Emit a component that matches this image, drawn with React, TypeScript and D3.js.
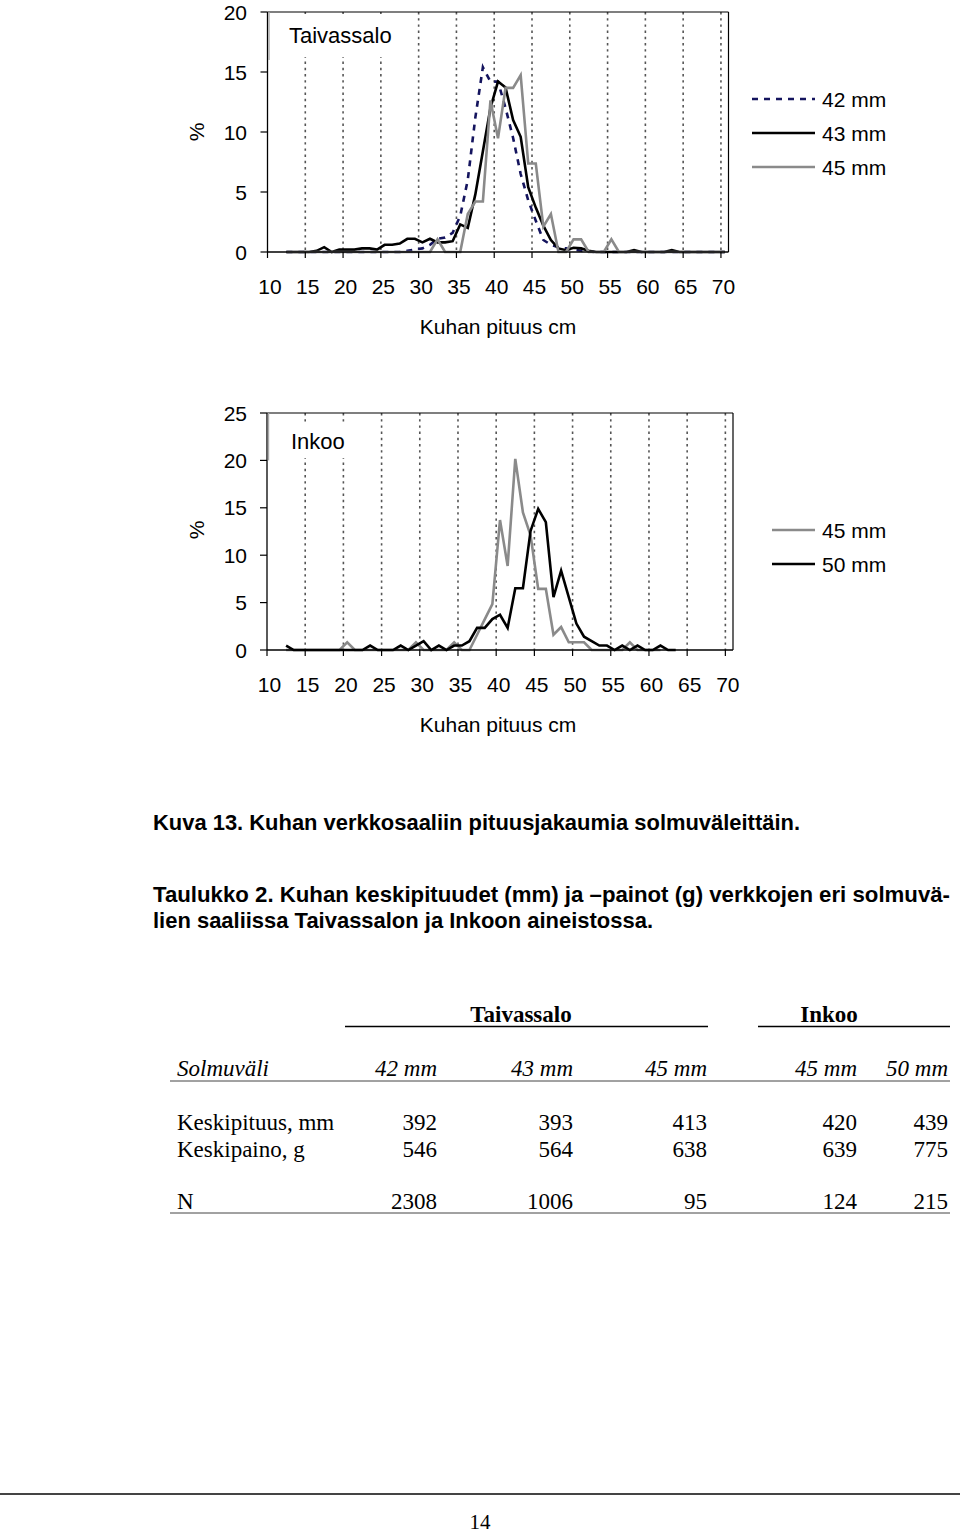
import React from 'react';
import * as d3 from 'd3';

// ---------- data ----------
const xTickValues = [10, 15, 20, 25, 30, 35, 40, 45, 50, 55, 60, 65, 70];
const xTitle = 'Kuhan pituus cm';
const taivYTicks = [0, 5, 10, 15, 20];
const inkooYTicks = [0, 5, 10, 15, 20, 25];

// Taivassalo: % per 1 cm length class, first class 12 cm
const taivFirstClass = 12;
const taiv42mm = [
  0, 0, 0, 0, 0, 0, 0, 0, 0, 0, 0, 0, 0, 0, 0, 0,
  0.1, 0.2, 0.3, 0.6, 1.1, 1.2, 1.6, 3.0, 6.0, 11.2, 15.4, 14.2, 14.2, 12.0, 9.5, 6.5, 4.3, 2.6, 1.0, 0.6, 0.4, 0.3, 0.2, 0.1, 0.05,
  0, 0, 0, 0, 0, 0, 0, 0, 0, 0, 0, 0, 0, 0, 0, 0, 0, 0,
];
const taiv43mm = [
  0, 0, 0, 0, 0.1, 0.4, 0, 0.2, 0.2, 0.2, 0.3, 0.3, 0.2, 0.6, 0.6, 0.7, 1.1, 1.1, 0.8, 1.1, 0.8, 0.8, 0.9,
  2.3, 2.0, 4.8, 8.4, 12.0, 14.2, 13.7, 11.0, 9.6, 5.4, 3.7, 2.2, 1.0, 0.3, 0.15, 0.35, 0.3, 0.1,
  0, 0, 0, 0, 0, 0.15, 0, 0, 0, 0, 0.15, 0, 0, 0, 0, 0, 0, 0,
];
const taiv45mm = [
  0, 0, 0, 0, 0, 0, 0, 0, 0, 0, 0, 0, 0, 0, 0, 0, 0, 0, 0, 0,
  1.05, 0, 0, 0,
  3.16, 4.21, 4.21, 12.63, 9.47, 13.68, 13.68, 14.74, 7.37, 7.37, 2.11, 3.16, 0, 0, 1.05, 1.05,
  0, 0, 0, 1.05,
  0, 0, 0, 0, 0, 0, 0, 0, 0, 0, 0, 0, 0, 0, 0,
];

// Inkoo: first class 12 cm
const inkooFirstClass = 12;
const inkoo45mm = [
  0, 0, 0, 0, 0, 0, 0, 0, 0.81, 0, 0, 0, 0, 0, 0, 0, 0, 0.81, 0, 0, 0, 0, 0.81, 0, 0,
  1.61, 3.23, 4.84, 13.71, 8.87, 20.16, 14.52, 12.1, 6.45, 6.45, 1.61, 2.42, 0.81, 0.81, 0.81,
  0, 0, 0, 0, 0, 0.81, 0, 0, 0, 0,
];
const inkoo50mm = [
  0.47, 0, 0, 0, 0, 0, 0, 0, 0, 0, 0, 0.47, 0, 0, 0, 0.47, 0, 0.47, 0.93, 0, 0.47, 0, 0.47, 0.47, 0.93,
  2.33, 2.33, 3.26, 3.72, 2.33, 6.51, 6.51, 12.56, 14.88, 13.49, 5.58, 8.37, 5.58, 2.79, 1.4, 0.93,
  0.47, 0.47, 0, 0.47, 0, 0.47, 0, 0, 0.47, 0, 0,
];

// table
const tableHeaderGroups = ['Taivassalo', 'Inkoo'];
const meshSizes = ['42 mm', '43 mm', '45 mm', '45 mm', '50 mm'];
const rowLabels = ['Keskipituus, mm', 'Keskipaino, g', 'N'];
const meanLength = [392, 393, 413, 420, 439];
const meanWeight = [546, 564, 638, 639, 775];
const counts = [2308, 1006, 95, 124, 215];

// ---------- styles ----------
const SANS = '"Liberation Sans", Arial, Helvetica, sans-serif';
const SERIF = '"Liberation Serif", "Times New Roman", serif';
const NARROW = '"Liberation Sans Narrow", "Arial Narrow", "Liberation Sans", sans-serif';
const GRAY = '#8a8a8a';
const NAVY = '#14145e';

type Series = { name: string; values: number[]; first: number; color: string; dash?: string };

type ChartProps = {
  x0: number; x1: number; y0: number; y1: number; yMax: number; yTicks: number[];
  series: Series[]; label: string; labelBox: [number, number, number, number]; labelBaseline: number;
  legendX: [number, number]; legendY: number[]; pctY: number;
};

function Chart(p: ChartProps) {
  const x = d3.scaleLinear().domain([10, 71]).range([p.x0, p.x1]);
  const y = d3.scaleLinear().domain([0, p.yMax]).range([p.y1, p.y0]);
  const line = (s: Series) =>
    d3.line<number>().x((_, i) => x(s.first + i + 0.5)).y((d) => y(d))(s.values) || '';
  const [bx, by, bw, bh] = p.labelBox;
  return (
    <g>
      {/* gridlines */}
      {xTickValues.slice(1).map((t) => (
        <line key={'g' + t} x1={x(t)} x2={x(t)} y1={p.y0} y2={p.y1} stroke="#555" strokeWidth={1.6} strokeDasharray="2.4,3.8" />
      ))}
      {/* label box */}
      <rect x={bx} y={by} width={bw} height={bh} fill="#fff" />
      <text x={bx + 6} y={p.labelBaseline} fontFamily={SANS} fontSize={22} fill="#000">{p.label}</text>
      {/* series */}
      {p.series.map((s) => (
        <path key={s.name} d={line(s)} fill="none" stroke={s.color} strokeWidth={2.6} strokeDasharray={s.dash} strokeLinejoin="miter" />
      ))}
      {/* frame */}
      <line x1={x(10)} x2={x(71)} y1={p.y0} y2={p.y0} stroke="#000" strokeWidth={1.2} />
      <line x1={x(71)} x2={x(71)} y1={p.y0} y2={p.y1} stroke="#000" strokeWidth={1.2} />
      <line x1={x(10)} x2={x(71)} y1={p.y1} y2={p.y1} stroke="#000" strokeWidth={1.3} />
      <line x1={x(10)} x2={x(10)} y1={p.y0} y2={p.y1} stroke="#000" strokeWidth={1.3} />
      <line x1={x(10) + 1.5} x2={x(10) + 1.5} y1={p.y0} y2={y(p.yMax * 0.8)} stroke="#aaa" strokeWidth={1.4} />
      {/* y ticks */}
      {p.yTicks.map((t) => (
        <g key={'y' + t}>
          <line x1={x(10) - 7} x2={x(10)} y1={y(t)} y2={y(t)} stroke="#000" strokeWidth={1.2} />
          <text x={247} y={y(t)} dy="0.36em" textAnchor="end" fontFamily={SANS} fontSize={21}>{t}</text>
        </g>
      ))}
      {/* x ticks */}
      {xTickValues.map((t) => (
        <g key={'x' + t}>
          <line x1={x(t)} x2={x(t)} y1={p.y1} y2={p.y1 + 6} stroke="#000" strokeWidth={1.2} />
          <text x={x(t) + 2.5} y={p.y1 + 42} textAnchor="middle" fontFamily={SANS} fontSize={21}>{t}</text>
        </g>
      ))}
      <text x={498} y={p.y1 + 82} textAnchor="middle" fontFamily={SANS} fontSize={21}>{xTitle}</text>
      <text transform={`translate(204,${p.pctY}) rotate(-90)`} textAnchor="middle" fontFamily={SANS} fontSize={21}>%</text>
      {/* legend */}
      {p.series.map((s, i) => (
        <g key={'l' + s.name}>
          <line x1={p.legendX[0]} x2={p.legendX[1]} y1={p.legendY[i]} y2={p.legendY[i]} stroke={s.color} strokeWidth={2.4} strokeDasharray={s.dash ? '6,6' : undefined} />
          <text x={822} y={p.legendY[i]} dy="0.36em" fontFamily={SANS} fontSize={21}>{s.name}</text>
        </g>
      ))}
    </g>
  );
}

export default function App() {
  const colRight = [437, 573, 707, 857, 948];
  const rowY = [1130, 1157, 1209];
  const rowValues = [meanLength, meanWeight, counts];
  return (
    <svg width={960} height={1533} style={{ position: 'absolute', left: 0, top: 0, background: '#fff' }}>
      <rect width={960} height={1533} fill="#fff" />
      <Chart
        x0={267.5} x1={728.5} y0={12} y1={252} yMax={20} yTicks={taivYTicks}
        series={[
          { name: '42 mm', values: taiv42mm, first: taivFirstClass, color: NAVY, dash: '6,6' },
          { name: '43 mm', values: taiv43mm, first: taivFirstClass, color: '#000' },
          { name: '45 mm', values: taiv45mm, first: taivFirstClass, color: GRAY },
        ]}
        label="Taivassalo" labelBox={[283, 14, 122, 43]} labelBaseline={43}
        legendX={[752, 815]} legendY={[99, 133, 167]} pctY={132}
      />
      <Chart
        x0={267} x1={733} y0={413} y1={650} yMax={25} yTicks={inkooYTicks}
        series={[
          { name: '45 mm', values: inkoo45mm, first: inkooFirstClass, color: GRAY },
          { name: '50 mm', values: inkoo50mm, first: inkooFirstClass, color: '#000' },
        ]}
        label="Inkoo" labelBox={[285, 423, 85, 35]} labelBaseline={449}
        legendX={[772, 815]} legendY={[530, 564]} pctY={530}
      />

      {/* captions */}
      <g fontFamily={NARROW} fontWeight="bold" fontSize={22}>
        <text x={153} y={830} textLength={647} lengthAdjust="spacingAndGlyphs">Kuva 13. Kuhan verkkosaaliin pituusjakaumia solmuväleittäin.</text>
        <text x={153} y={902} textLength={797} lengthAdjust="spacingAndGlyphs">Taulukko 2. Kuhan keskipituudet (mm) ja –painot (g) verkkojen eri solmuvä-</text>
        <text x={153} y={928} textLength={500} lengthAdjust="spacingAndGlyphs">lien saaliissa Taivassalon ja Inkoon aineistossa.</text>
      </g>

      {/* table */}
      <g fontFamily={SERIF} fontSize={23}>
        <text x={521} y={1022} textAnchor="middle" fontWeight="bold">{tableHeaderGroups[0]}</text>
        <text x={829} y={1022} textAnchor="middle" fontWeight="bold">{tableHeaderGroups[1]}</text>
        <line x1={345} x2={708} y1={1026.5} y2={1026.5} stroke="#000" strokeWidth={1.3} />
        <line x1={758} x2={950} y1={1026.5} y2={1026.5} stroke="#000" strokeWidth={1.3} />
        <text x={177} y={1076} fontStyle="italic">Solmuväli</text>
        {meshSizes.map((m, i) => (
          <text key={'m' + i} x={colRight[i]} y={1076} textAnchor="end" fontStyle="italic">{m}</text>
        ))}
        <line x1={170} x2={950} y1={1081} y2={1081} stroke="#444" strokeWidth={1} />
        {rowLabels.map((r, ri) => (
          <g key={r}>
            <text x={177} y={rowY[ri]}>{r}</text>
            {rowValues[ri].map((v, ci) => (
              <text key={ci} x={colRight[ci]} y={rowY[ri]} textAnchor="end">{v}</text>
            ))}
          </g>
        ))}
        <line x1={170} x2={950} y1={1213} y2={1213} stroke="#444" strokeWidth={1} />
      </g>

      {/* footer */}
      <line x1={0} x2={960} y1={1494} y2={1494} stroke="#444" strokeWidth={2} />
      <text x={480} y={1529} textAnchor="middle" fontFamily={SERIF} fontSize={21}>14</text>
    </svg>
  );
}
